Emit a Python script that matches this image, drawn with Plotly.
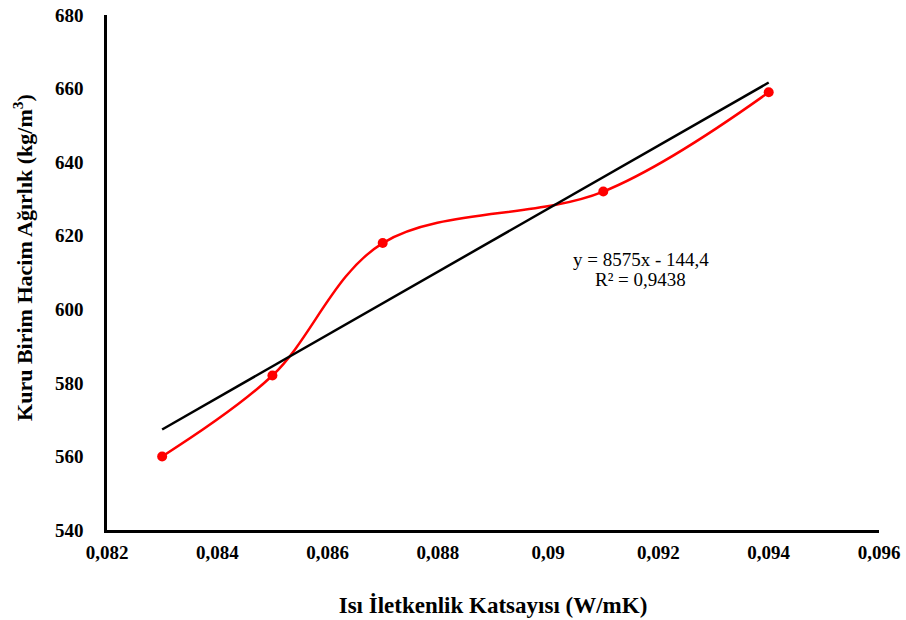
import plotly.graph_objects as go

x_vals = [0.083, 0.085, 0.087, 0.091, 0.094]
y_vals = [560, 582, 618, 632, 659]
slope = 8575
intercept = -144.4
trend_x = [0.083, 0.094]
trend_y = [slope * v + intercept for v in trend_x]
x_ticks = [0.082, 0.084, 0.086, 0.088, 0.09, 0.092, 0.094, 0.096]
x_tick_labels = ["0,082", "0,084", "0,086", "0,088", "0,09", "0,092", "0,094", "0,096"]
y_ticks = [540, 560, 580, 600, 620, 640, 660, 680]
y_tick_labels = ["540", "560", "580", "600", "620", "640", "660", "680"]
eq_lines = ["y = 8575x - 144,4", "R² = 0,9438"]
y_title = "<b>Kuru Birim Hacim Ağırlık (kg/m<sup>3</sup>)</b>"
x_title = "<b>Isı İletkenlik Katsayısı (W/mK)</b>"

font_family = "Liberation Serif"

fig = go.Figure()
fig.add_trace(go.Scatter(
    x=x_vals, y=y_vals, mode="lines+markers",
    line=dict(color="#ff0000", width=2.5, shape="spline", smoothing=1.0),
    marker=dict(color="#ff0000", size=10),
    showlegend=False,
))
fig.add_trace(go.Scatter(
    x=trend_x, y=trend_y, mode="lines",
    line=dict(color="#000000", width=2.5),
    showlegend=False,
))

for i, line in enumerate(eq_lines):
    fig.add_annotation(
        x=0.09168, y=613.4 - 5.4 * i, xref="x", yref="y",
        text=line, showarrow=False, align="center",
        font=dict(family=font_family, size=19, color="#000000"),
    )

fig.add_annotation(
    x=-0.109, y=0.53, xref="paper", yref="paper",
    text=y_title, textangle=-90, showarrow=False,
    xanchor="center", yanchor="middle",
    font=dict(family=font_family, size=22, color="#000000"),
)

fig.update_layout(
    width=906, height=620,
    margin=dict(l=107, r=27, t=15, b=90, autoexpand=False),
    paper_bgcolor="white", plot_bgcolor="white",
    font=dict(family=font_family, color="#000000", size=19),
    xaxis=dict(
        range=[0.082, 0.096], tickvals=x_ticks, automargin=False,
        ticktext=["<b>" + t + "</b>" for t in x_tick_labels],
        showgrid=False, zeroline=False, showline=True, linecolor="#000000", linewidth=2.5,
        ticks="", ticklabelstandoff=3,
        tickfont=dict(family=font_family, size=19, color="#000000"),
        title=dict(text=x_title,
                   font=dict(family=font_family, size=23, color="#000000"), standoff=36),
    ),
    yaxis=dict(
        range=[540, 680], tickvals=y_ticks, automargin=False,
        ticktext=["<b>" + t + "</b>" for t in y_tick_labels],
        showgrid=False, zeroline=False, showline=True, linecolor="#000000", linewidth=2.5,
        ticks="", ticklabelstandoff=17,
        tickfont=dict(family=font_family, size=19, color="#000000"),
    ),
)

fig.write_html("out.html")
